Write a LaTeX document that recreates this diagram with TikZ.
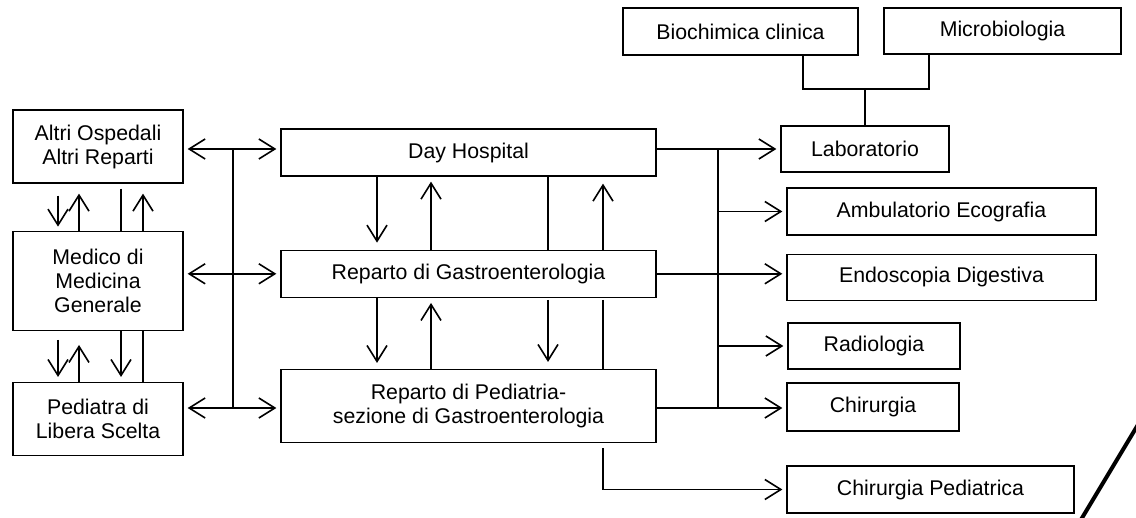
\documentclass[tikz,border=0pt]{standalone}
\usepackage{fontspec}
\setmainfont{Liberation Sans}
\usepackage{tikz}
\usetikzlibrary{positioning,arrows.meta}

\tikzset{
  unitbox/.style={rectangle, draw, line width=0.65pt, inner sep=0pt, align=center,
    font=\fontsize{10.65}{12}\selectfont},
  arr/.style={-{Straight Barb[length=8pt,width=10pt]}, shorten >=2pt},
  arrs/.style={{Straight Barb[length=8pt,width=10pt]}-{Straight Barb[length=8pt,width=10pt]}, shorten <=2pt, shorten >=2pt}
}

\begin{document}
\begin{tikzpicture}[x=0.5pt, y=-0.5pt, line width=0.8pt]
\useasboundingbox (0,0) rectangle (1136,518);

% colonna di sinistra
\node[unitbox, minimum width=85pt, minimum height=36.5pt] (altri) at (98,146.5) {Altri Ospedali\\Altri Reparti};
\node[unitbox, minimum width=85pt, minimum height=49.5pt, below=23.5pt of altri] (medico) {Medico di\\Medicina\\Generale};
\node[unitbox, minimum width=85pt, minimum height=36.5pt, below=25.5pt of medico] (pediatra) {Pediatra di\\Libera Scelta};

% reparti
\node[unitbox, minimum width=187.5pt, minimum height=23.5pt] (day) at (468.5,152.5) {Day Hospital};
\node[unitbox, minimum width=187.5pt, minimum height=23.5pt, below=36.5pt of day] (gastro) {Reparto di Gastroenterologia};
\node[unitbox, minimum width=187.5pt, minimum height=36.5pt, below=35.5pt of gastro] (pedgastro) {Reparto di Pediatria-\\sezione di Gastroenterologia};

% servizi
\node[unitbox, minimum width=117.5pt, minimum height=23.5pt] (bio) at (740.5,31.5) {Biochimica clinica};
\node[unitbox, minimum width=118.5pt, minimum height=23pt] (micro) at (1002.5,31) {Microbiologia};
\node[unitbox, minimum width=84pt, minimum height=23pt] (lab) at (865,149) {Laboratorio};
\node[unitbox, minimum width=154.5pt, minimum height=23.5pt] (ambu) at (941.5,211.5) {Ambulatorio Ecografia};
\node[unitbox, minimum width=154.5pt, minimum height=23pt, below=9pt of ambu] (endo) {Endoscopia Digestiva};
\node[unitbox, minimum width=86pt, minimum height=23pt] (radio) at (874,346) {Radiologia};
\node[unitbox, minimum width=86pt, minimum height=24pt] (chir) at (873,407) {Chirurgia};
\node[unitbox, minimum width=143.5pt, minimum height=23.5pt] (chirped) at (930.5,489.5) {Chirurgia Pediatrica};

% collegamenti a sinistra
\coordinate (lbus) at (233,149);
\coordinate (lbusb) at (233,408);
\draw[arrs] (altri.east |- lbus) -- (day.west |- lbus);
\draw[arrs] (medico.east |- gastro.west) -- (gastro.west);
\draw[arrs] (pediatra.east |- lbusb) -- (pedgastro.west |- lbusb);
\draw (lbus) -- (lbusb);

\draw[arr, shorten <=6pt] ([xshift=-20pt]altri.south) -- ([xshift=-20pt]medico.north);
\draw[arr, shorten >=5pt] ([xshift=-9.5pt]medico.north) -- ([xshift=-9.5pt]altri.south);
\draw[shorten <=2.5pt] ([xshift=11.5pt]altri.south) -- ([xshift=11.5pt]medico.north);
\draw[arr, shorten >=5pt] ([xshift=22.5pt]medico.north) -- ([xshift=22.5pt]altri.south);

\draw[arr, shorten <=4.5pt, shorten >=2.5pt] ([xshift=-20pt]medico.south) -- ([xshift=-20pt]pediatra.north);
\draw[arr, shorten >=7pt] ([xshift=-9.5pt]pediatra.north) -- ([xshift=-9.5pt]medico.south);
\draw[arr, shorten >=2.5pt] ([xshift=11.5pt]medico.south) -- ([xshift=11.5pt]pediatra.north);
\draw ([xshift=22.5pt]medico.south) -- ([xshift=22.5pt]pediatra.north);

% collegamenti tra i reparti
\draw[arr, shorten >=3.5pt] ([xshift=-45.75pt]day.south) -- ([xshift=-45.75pt]gastro.north);
\draw[arr, shorten >=2.5pt] ([xshift=-18.75pt]gastro.north) -- ([xshift=-18.75pt]day.south);
\draw ([xshift=39.75pt]day.south) -- ([xshift=39.75pt]gastro.north);
\draw[arr, shorten >=3.5pt] ([xshift=67.25pt]gastro.north) -- ([xshift=67.25pt]day.south);

\draw[arr, shorten >=3pt] ([xshift=-45.75pt]gastro.south) -- ([xshift=-45.75pt]pedgastro.north);
\draw[arr, shorten >=2.5pt] ([xshift=-18.75pt]pedgastro.north) -- ([xshift=-18.75pt]gastro.south);
\draw[arr, shorten <=1pt, shorten >=3.5pt] ([xshift=39.75pt]gastro.south) -- ([xshift=39.75pt]pedgastro.north);
\draw[shorten <=1pt] ([xshift=67.25pt]gastro.south) -- ([xshift=67.25pt]pedgastro.north);

\draw[arr, shorten <=2.5pt] ([xshift=67.25pt]pedgastro.south) |- (chirped.west);

% collegamenti a destra
\coordinate (rbus) at (718,149);
\coordinate (rbusb) at (718,408);
\draw[arr] (day.east |- lab.west) -- (lab.west);
\draw[arr] (gastro.east) -- (gastro.east -| endo.west);
\draw[arr] (pedgastro.east |- rbusb) -- (chir.west |- rbusb);
\draw (rbus) -- (rbusb);
\draw[arr] (rbus |- ambu.west) -- (ambu.west);
\draw[arr] (rbus |- radio.west) -- (radio.west);

% laboratorio
\coordinate (labjoin) at (865,89);
\draw ([xshift=31.25pt]bio.south) |- (labjoin) -| ([xshift=-36.75pt]micro.south);
\draw (labjoin) -- (lab.north);

\draw[line width=2pt] (1140.2,421) -- (1079,523);
\end{tikzpicture}
\end{document}
